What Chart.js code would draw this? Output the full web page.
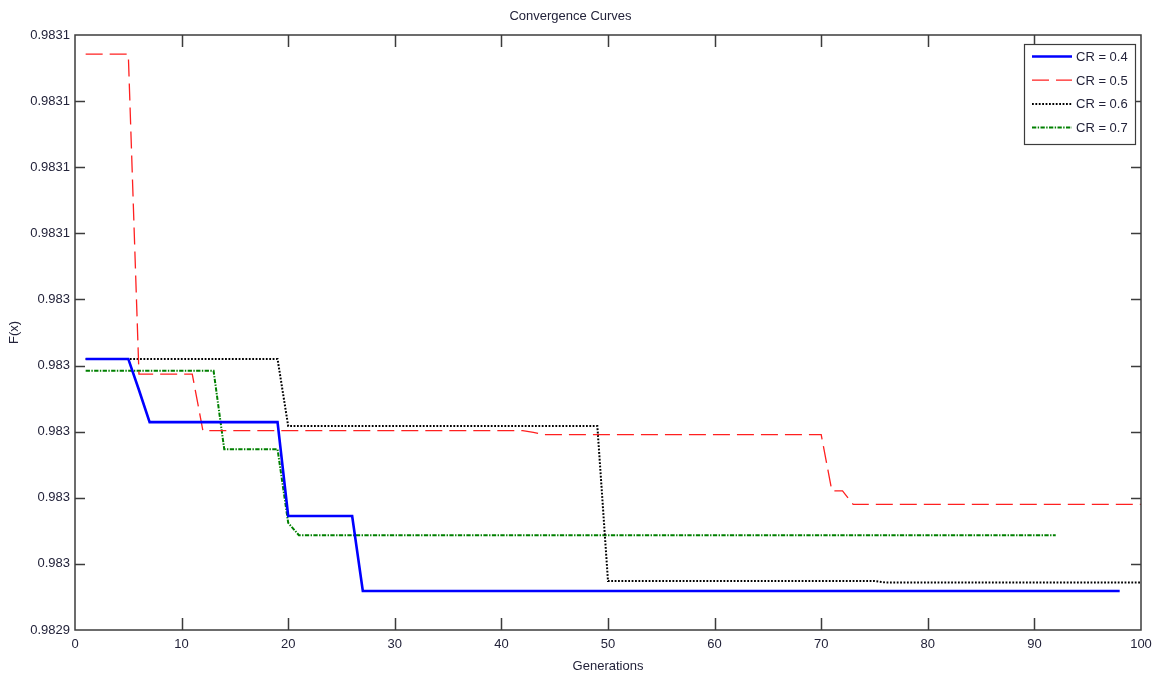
<!DOCTYPE html>
<html>
<head>
<meta charset="utf-8">
<title>Convergence Curves</title>
<script src="https://cdn.jsdelivr.net/npm/chart.js@4/dist/chart.umd.min.js"></script>
<style>
  html, body { margin: 0; padding: 0; background: #fff; }
  #wrap { width: 1160px; height: 679px; }
</style>
</head>
<body>
<div id="wrap"><canvas id="myChart" width="1160" height="679"></canvas></div>
<script>
const FONT = "'Liberation Sans', Arial, Helvetica, sans-serif"
const FSIZE = 13
const TEXT = '#23233a'
const AXIS = '#3c3c3c'

// generations where each curve changes, and F(x) at those generations
const gen04 = [1, 5, 6, 7, 19, 20, 26, 27, 98]
const cr04 = [0.983022, 0.983022, 0.9830126, 0.9830029, 0.9830029, 0.9829745, 0.9829745, 0.9829518, 0.9829518]

const gen05 = [1, 5, 6, 11, 12, 42, 43, 44, 70, 71, 72, 73, 100]
const cr05 = [0.9831142, 0.9831142, 0.9830174, 0.9830174, 0.9830003, 0.9830003, 0.9829998, 0.9829991, 0.9829991, 0.9829821, 0.9829821, 0.982978, 0.982978]

const gen06 = [1, 19, 20, 49, 50, 75, 76, 100]
const cr06 = [0.983022, 0.983022, 0.9830017, 0.9830017, 0.9829548, 0.9829548, 0.9829544, 0.9829544]

const gen07 = [1, 13, 14, 19, 20, 21, 92]
const cr07 = [0.9830184, 0.9830184, 0.9829947, 0.9829947, 0.9829724, 0.9829687, 0.9829687]

const seriesLabels = ['CR = 0.4', 'CR = 0.5', 'CR = 0.6', 'CR = 0.7']

// axis limits / ticks
const xMin = 0, xMax = 100, xStep = 10
const yMin = 0.98294, yMax = 0.98312, yStep = 0.00002

function toPoints(gens, vals) {
    return gens.map((g, i) => ({ x: g, y: vals[i] }))
}

// matlab-like box with inward ticks on all four sides
const boxPlugin = {
    id: 'boxTicks',
    afterDatasetsDraw(chart) {
        const { ctx, chartArea: a, scales } = chart
        ctx.save()
        ctx.strokeStyle = AXIS
        ctx.lineWidth = 1.5
        ctx.beginPath()
        scales.x.ticks.forEach(t => {
            const px = Math.round(scales.x.getPixelForValue(t.value)) + 0.5
            if (t.value === xMin || t.value === xMax) return
            ctx.moveTo(px, a.bottom); ctx.lineTo(px, a.bottom - 12)
            ctx.moveTo(px, a.top); ctx.lineTo(px, a.top + 12)
        })
        scales.y.ticks.forEach((t, i) => {
            if (i === 0 || i === scales.y.ticks.length - 1) return
            const py = Math.round(scales.y.getPixelForValue(t.value)) + 0.5
            ctx.moveTo(a.left, py); ctx.lineTo(a.left + 10, py)
            ctx.moveTo(a.right, py); ctx.lineTo(a.right - 10, py)
        })
        ctx.stroke()
        ctx.strokeRect(a.left, a.top, a.right - a.left, a.bottom - a.top)
        ctx.restore()
    }
}

// legend box in the upper right corner of the plot
const legendPlugin = {
    id: 'boxLegend',
    afterDraw(chart) {
        const ctx = chart.ctx
        const a = chart.chartArea
        const w = 111, h = 100
        const x0 = a.right - 6 - w, y0 = a.top + 9
        ctx.save()
        ctx.fillStyle = '#fff'
        ctx.fillRect(x0, y0, w, h)
        ctx.strokeStyle = AXIS
        ctx.lineWidth = 1.2
        ctx.strokeRect(x0 + 0.5, y0 + 0.5, w, h)
        ctx.font = FSIZE + 'px ' + FONT
        ctx.textBaseline = 'middle'
        chart.data.datasets.forEach((ds, i) => {
            const y = y0 + 12.5 + i * 23.7
            ctx.strokeStyle = ds.borderColor
            ctx.lineWidth = ds.borderWidth
            ctx.setLineDash(ds.borderDash || [])
            ctx.beginPath()
            ctx.moveTo(x0 + 8, y)
            ctx.lineTo(x0 + 48, y)
            ctx.stroke()
            ctx.setLineDash([])
            ctx.fillStyle = TEXT
            ctx.fillText(ds.label, x0 + 52, y + 1)
        })
        ctx.restore()
    }
}

const ctx = document.getElementById('myChart').getContext('2d')
const myChart = new Chart(ctx, {
    type: 'line',
    data: {
        datasets: [
            {
                label: seriesLabels[0],
                data: toPoints(gen04, cr04),
                borderColor: '#0000ff',
                borderWidth: 2.6
            },
            {
                label: seriesLabels[1],
                data: toPoints(gen05, cr05),
                borderColor: '#ff2020',
                borderWidth: 1.3,
                borderDash: [17, 7]
            },
            {
                label: seriesLabels[2],
                data: toPoints(gen06, cr06),
                borderColor: '#000000',
                borderWidth: 2,
                borderDash: [1.8, 1.6]
            },
            {
                label: seriesLabels[3],
                data: toPoints(gen07, cr07),
                borderColor: '#008000',
                borderWidth: 2,
                borderDash: [4.3, 1.4, 1.4, 1.4]
            }
        ]
    },
    options: {
        responsive: false,
        animation: false,
        elements: {
            line: { tension: 0, fill: false },
            point: { radius: 0, hoverRadius: 0 }
        },
        layout: { padding: { left: 0, right: 19, top: 0, bottom: 0 } },
        plugins: {
            legend: { display: false },
            tooltip: { enabled: false },
            title: {
                display: true,
                text: 'Convergence Curves',
                color: TEXT,
                font: { family: FONT, size: FSIZE, weight: 'normal', lineHeight: 1.2 },
                padding: { top: 9, bottom: 10.4 }
            }
        },
        scales: {
            x: {
                type: 'linear',
                min: xMin,
                max: xMax,
                grid: { display: false, drawTicks: false },
                border: { display: false },
                ticks: {
                    stepSize: xStep,
                    padding: 7,
                    color: TEXT,
                    maxRotation: 0,
                    font: { family: FONT, size: FSIZE }
                },
                title: {
                    display: true,
                    text: 'Generations',
                    color: TEXT,
                    font: { family: FONT, size: FSIZE, lineHeight: 1.2 },
                    padding: { top: 0, bottom: 5 }
                },
                afterFit(scale) { scale.height = 49 }
            },
            y: {
                type: 'linear',
                min: yMin,
                max: yMax,
                grid: { display: false, drawTicks: false },
                border: { display: false },
                ticks: {
                    stepSize: yStep,
                    padding: 5,
                    color: TEXT,
                    font: { family: FONT, size: FSIZE },
                    callback: v => String(Number(Number(v).toPrecision(4)))
                },
                title: {
                    display: true,
                    text: 'F(x)',
                    color: TEXT,
                    font: { family: FONT, size: FSIZE, lineHeight: 1.2 },
                    padding: { top: 7, bottom: 0 }
                },
                afterFit(scale) { scale.width = 75 }
            }
        }
    },
    plugins: [boxPlugin, legendPlugin]
})
</script>
</body>
</html>
